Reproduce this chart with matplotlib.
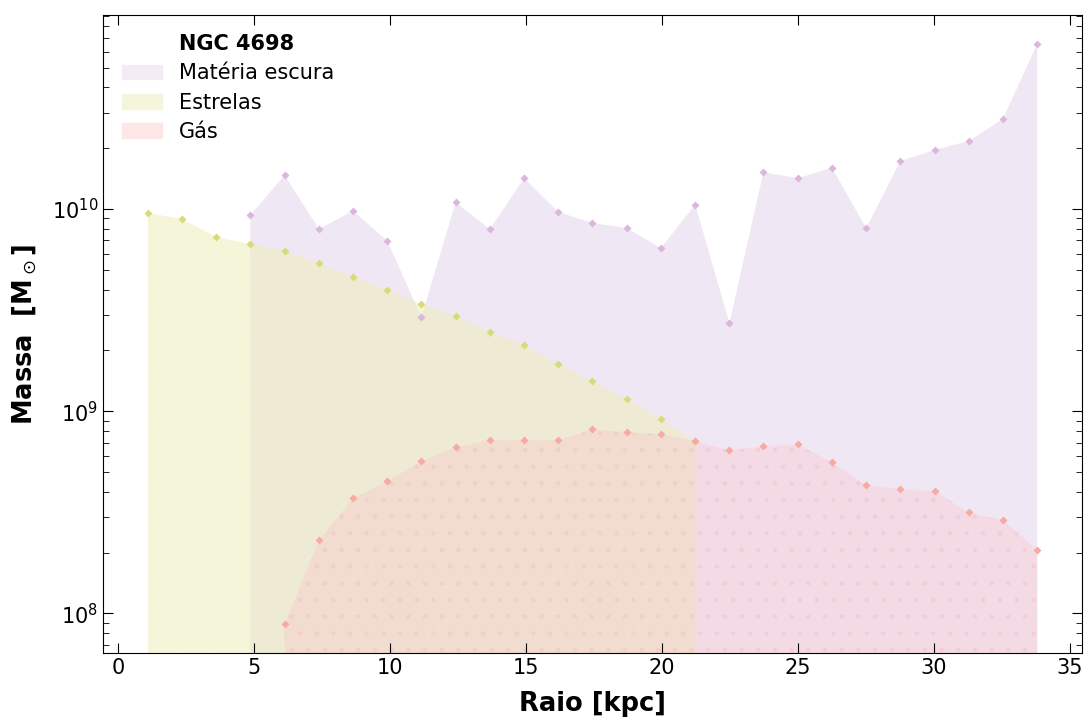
import numpy as np
import matplotlib
matplotlib.use("Agg")
import matplotlib.pyplot as plt
import matplotlib.hatch as mhatch
from matplotlib.patches import Patch

# raio dos anéis [kpc]
raio = [1.10, 2.36, 3.62, 4.87, 6.13, 7.39, 8.65, 9.91, 11.16, 12.42, 13.68,
        14.94, 16.20, 17.45, 18.71, 19.97, 21.23, 22.49, 23.74, 25.00, 26.26,
        27.52, 28.78, 30.04, 31.29, 32.55, 33.81]

# massas [M_sol]
m_estrelas = [9.55e9, 8.92e9, 7.27e9, 6.71e9, 6.20e9, 5.40e9, 4.60e9, 3.97e9,
              3.39e9, 2.95e9, 2.46e9, 2.12e9, 1.71e9, 1.41e9, 1.15e9, 9.2e8,
              7.1e8]
m_escura = [9.34e9, 1.47e10, 7.96e9, 9.78e9, 6.95e9, 2.92e9, 1.08e10, 7.96e9,
            1.42e10, 9.67e9, 8.53e9, 8.05e9, 6.41e9, 1.05e10, 2.73e9, 1.52e10,
            1.42e10, 1.60e10, 8.05e9, 1.73e10, 1.96e10, 2.17e10, 2.79e10,
            6.56e10]
m_gas = [8.83e7, 2.30e8, 3.71e8, 4.50e8, 5.65e8, 6.63e8, 7.18e8, 7.18e8,
         7.18e8, 8.15e8, 7.87e8, 7.69e8, 7.10e8, 6.41e8, 6.71e8, 6.87e8,
         5.59e8, 4.31e8, 4.11e8, 4.02e8, 3.16e8, 2.89e8, 2.07e8]


# hachura '/' mais espaçada (metade das linhas)
class HachuraEsparsa(mhatch.NorthEastHatch):
    def __init__(self, hatch, density):
        super().__init__(hatch, density / 2)


mhatch._hatch_types = [HachuraEsparsa if t is mhatch.NorthEastHatch else t
                       for t in mhatch._hatch_types]
plt.rcParams['hatch.linewidth'] = 0.8

r = np.array(raio)
r_est = r[:len(m_estrelas)]
r_esc = r[3:3 + len(m_escura)]
r_gas = r[4:4 + len(m_gas)]

base = 1e7
fig, ax = plt.subplots(figsize=(10.84, 7.18), dpi=100)

ax.fill_between(r_esc, base, m_escura, facecolor=(0.90, 0.84, 0.93, 0.58),
                lw=0)
ax.plot(r_esc, m_escura, 'D', color='#dcb6dc', ms=4.5, mec='none')

ax.fill_between(r_est, base, m_estrelas, facecolor=(0.93, 0.93, 0.73, 0.55),
                edgecolor=(1, 1, 1, 0.25), hatch='/', lw=0)
ax.plot(r_est, m_estrelas, 'D', color='#d8dc78', ms=4.5, mec='none')

ax.fill_between(r_gas, base, m_gas, facecolor=(0.99, 0.77, 0.78, 0.35),
                edgecolor=(0.97, 0.72, 0.74, 0.3), hatch='.', lw=0)
ax.plot(r_gas, m_gas, 'D', color='#f7aaa2', ms=4.5, mec='none')

ax.set_yscale('log')
ax.set_xlim(-0.55, 35.45)
ax.set_ylim(6.35e7, 9.1e10)
ax.set_xticks([0, 5, 10, 15, 20, 25, 30, 35])

ax.tick_params(which='both', direction='in', top=True, right=True,
               labelsize=15)
ax.tick_params(which='major', length=7)
ax.tick_params(which='minor', length=4)

ax.set_xlabel('Raio [kpc]', fontsize=18.5, fontweight='bold', labelpad=9)
ax.set_ylabel(r'Massa  [M$_\odot$]', fontsize=18.5, fontweight='bold',
              labelpad=9)

handles = [Patch(facecolor='none', edgecolor='none', label='NGC 4698'),
           Patch(color='#f3ecf5', label='Matéria escura'),
           Patch(color='#f5f5dc', label='Estrelas'),
           Patch(color='#fce6e6', label='Gás')]
leg = ax.legend(handles=handles, loc='upper left', frameon=False,
                fontsize=15, handlelength=1.95, handleheight=0.7,
                labelspacing=0.45, bbox_to_anchor=(0.0, 1.0))
leg.get_texts()[0].set_fontweight('bold')

plt.subplots_adjust(left=0.095, right=0.998, top=0.979, bottom=0.09)
plt.savefig('out.png', dpi=100)
